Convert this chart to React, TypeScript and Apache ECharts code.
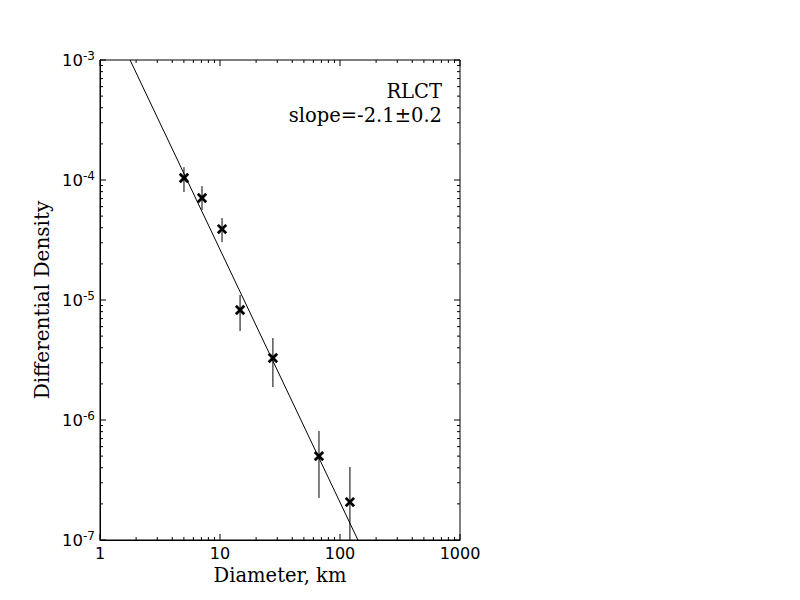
import React, { useEffect, useRef } from "react";
import * as echarts from "echarts";

// Data
const diameters = [5.01, 7.08, 10.4, 14.7, 27.6, 66.8, 121];
const densities = [1.04e-4, 7.08e-5, 3.9e-5, 8.25e-6, 3.29e-6, 5.0e-7, 2.07e-7];
const errLow = [7.94e-5, 5.62e-5, 3.04e-5, 5.52e-6, 1.88e-6, 2.24e-7, 5e-8];
const errHigh = [1.28e-4, 8.9e-5, 4.82e-5, 1.1e-5, 4.82e-6, 8.1e-7, 4.06e-7];
const fitX = [1.78, 141];
const fitY = [1e-3, 1e-7];

const xMin = 1;
const xMax = 1000;
const yMin = 1e-7;
const yMax = 1e-3;
const xDecades = [1, 10, 100];
const yDecades = [1e-7, 1e-6, 1e-5, 1e-4];
const mantissas = [1, 2, 3, 4, 5, 6, 7, 8, 9];

const labelText = "RLCT";
const slopeText = "slope=-2.1\u00b10.2";
const xName = "Diameter, km";
const yName = "Differential Density";

const SERIF = "'DejaVu Serif', serif";
const SANS = "'DejaVu Sans', sans-serif";

export default function App() {
  const ref = useRef<HTMLDivElement>(null);
  useEffect(() => {
    if (!ref.current) return;
    const chart = echarts.init(ref.current, undefined, { renderer: "svg" });

    const xTickVals: [number, number, number][] = [];
    xDecades.forEach((d) =>
      mantissas.forEach((m) => xTickVals.push([m * d, yMin, m === 1 ? 1 : 0]))
    );
    xTickVals.push([xMax, yMin, 1]);
    const yTickVals: [number, number, number][] = [];
    yDecades.forEach((d) =>
      mantissas.forEach((m) => yTickVals.push([xMin, m * d, m === 1 ? 1 : 0]))
    );
    yTickVals.push([xMin, yMax, 1]);

    const tickStyle = { stroke: "#000", lineWidth: 1 };

    const option: any = {
      animation: false,
      backgroundColor: "#fff",
      grid: {
        left: 100,
        top: 60,
        width: 360,
        height: 480,
        show: true,
        borderColor: "#000",
        borderWidth: 1,
        backgroundColor: "transparent",
      },
      xAxis: {
        type: "log",
        logBase: 10,
        min: xMin,
        max: xMax,
        name: xName,
        nameLocation: "middle",
        nameGap: 24,
        nameTextStyle: { fontFamily: SERIF, fontSize: 19.5, color: "#000" },
        axisLine: { show: true, lineStyle: { color: "#000", width: 1 } },
        axisTick: { show: false },
        splitLine: { show: false },
        minorTick: { show: false },
        axisLabel: {
          fontFamily: SANS,
          fontSize: 16,
          color: "#000",
          margin: 5,
          formatter: (v: number) => String(Math.round(v)),
        },
      },
      yAxis: {
        type: "log",
        logBase: 10,
        min: yMin,
        max: yMax,
        name: yName,
        nameLocation: "middle",
        nameGap: 48,
        nameTextStyle: { fontFamily: SERIF, fontSize: 20, color: "#000" },
        axisLine: { show: true, lineStyle: { color: "#000", width: 1 } },
        axisTick: { show: false },
        splitLine: { show: false },
        minorTick: { show: false },
        axisLabel: {
          margin: 5,
          formatter: (v: number) => `{b|10}{s|${Math.round(Math.log10(v))}}`,
          rich: {
            b: { fontFamily: SANS, fontSize: 16.5, color: "#000" },
            s: {
              fontFamily: SANS,
              fontSize: 12,
              color: "#000",
              padding: [0, 0, 9, 0],
            },
          },
        },
      },
      graphic: [
        {
          type: "text",
          right: 800 - 442,
          top: 81,
          style: {
            text: labelText,
            fontFamily: SERIF,
            fontSize: 19.5,
            fill: "#000",
            textAlign: "right",
          },
        },
        {
          type: "text",
          right: 800 - 442,
          top: 105,
          style: {
            text: slopeText,
            fontFamily: SERIF,
            fontSize: 19.5,
            fill: "#000",
            textAlign: "right",
          },
        },
      ],
      series: [
        {
          type: "line",
          data: fitX.map((x, i) => [x, fitY[i]]),
          showSymbol: false,
          lineStyle: { color: "#000", width: 1 },
          clip: true,
          z: 3,
        },
        {
          type: "custom",
          clip: true,
          z: 4,
          data: diameters.map((x, i) => [x, densities[i], errLow[i], errHigh[i]]),
          renderItem: (params: any, api: any) => {
            const x = api.value(0);
            const c = api.coord([x, api.value(1)]);
            const lo = api.coord([x, api.value(2)]);
            const hi = api.coord([x, api.value(3)]);
            const s = 4.2;
            return {
              type: "group",
              children: [
                {
                  type: "line",
                  shape: { x1: c[0], y1: lo[1], x2: c[0], y2: hi[1] },
                  style: { stroke: "#000", lineWidth: 1 },
                },
                {
                  type: "line",
                  shape: { x1: c[0] - s, y1: c[1] - s, x2: c[0] + s, y2: c[1] + s },
                  style: { stroke: "#000", lineWidth: 2.8 },
                },
                {
                  type: "line",
                  shape: { x1: c[0] - s, y1: c[1] + s, x2: c[0] + s, y2: c[1] - s },
                  style: { stroke: "#000", lineWidth: 2.8 },
                },
              ],
            };
          },
        },
        {
          type: "custom",
          z: 5,
          silent: true,
          data: xTickVals,
          renderItem: (params: any, api: any) => {
            const v = api.value(0);
            const len = api.value(2) ? 6 : 3;
            const b = api.coord([v, yMin]);
            const t = api.coord([v, yMax]);
            return {
              type: "group",
              children: [
                { type: "line", shape: { x1: b[0], y1: b[1], x2: b[0], y2: b[1] - len }, style: tickStyle },
                { type: "line", shape: { x1: t[0], y1: t[1], x2: t[0], y2: t[1] + len }, style: tickStyle },
              ],
            };
          },
        },
        {
          type: "custom",
          z: 5,
          silent: true,
          data: yTickVals,
          renderItem: (params: any, api: any) => {
            const v = api.value(1);
            const len = api.value(2) ? 6 : 3;
            const l = api.coord([xMin, v]);
            const r = api.coord([xMax, v]);
            return {
              type: "group",
              children: [
                { type: "line", shape: { x1: l[0], y1: l[1], x2: l[0] + len, y2: l[1] }, style: tickStyle },
                { type: "line", shape: { x1: r[0], y1: r[1], x2: r[0] - len, y2: r[1] }, style: tickStyle },
              ],
            };
          },
        },
      ],
    };
    chart.setOption(option);
    return () => chart.dispose();
  }, []);
  return (
    <div
      ref={ref}
      style={{ position: "absolute", left: 0, top: 0, width: 800, height: 600 }}
    />
  );
}
